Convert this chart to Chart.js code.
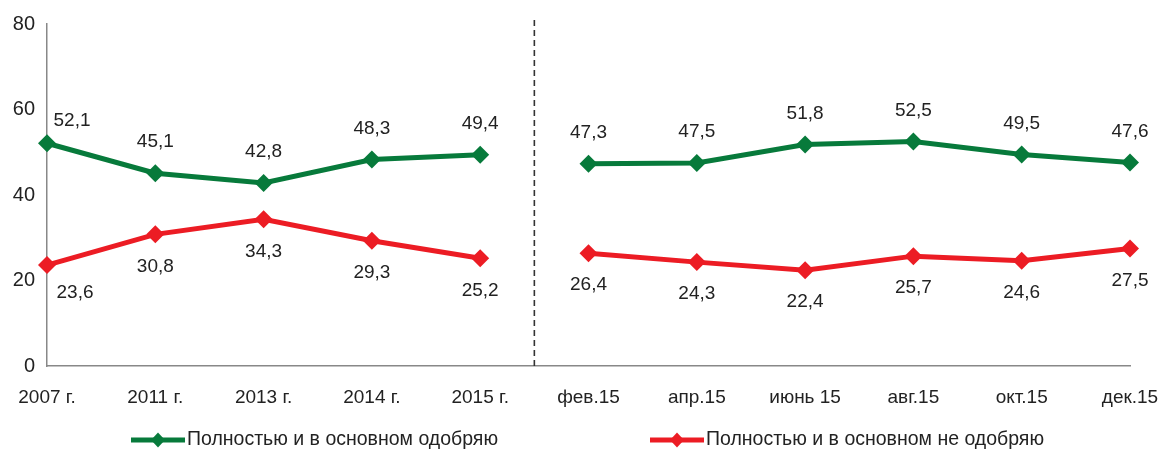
<!DOCTYPE html>
<html><head><meta charset="utf-8">
<script src="https://cdn.jsdelivr.net/npm/chart.js@4.4.0/dist/chart.umd.min.js"></script>
<style>html,body{margin:0;padding:0;background:#fff;}#wrap{width:1160px;height:450px;position:relative;}</style>
</head><body><div id="wrap"><canvas id="c" width="1160" height="450"></canvas></div>
<script>
const categories = ['2007 г.','2011 г.','2013 г.','2014 г.','2015 г.','фев.15','апр.15','июнь 15','авг.15','окт.15','дек.15'];
const approve = [52.1,45.1,42.8,48.3,49.4,47.3,47.5,51.8,52.5,49.5,47.6];
const disapprove = [23.6,30.8,34.3,29.3,25.2,26.4,24.3,22.4,25.7,24.6,27.5];
const seriesNames = ['Полностью и в основном одобряю','Полностью и в основном не одобряю'];
const yTicks = [0,20,40,60,80];

const GREEN = '#077a3b', RED = '#ec1c24';
const FONT = "'Liberation Sans', Arial, sans-serif";

const breakSeg = { borderColor: ctx => ctx.p0DataIndex === 4 ? 'rgba(0,0,0,0)' : undefined };

const labelsPlugin = {
  id: 'vlabels',
  afterDatasetsDraw(chart) {
    const ctx = chart.ctx;
    ctx.save();
    ctx.font = '19px ' + FONT;
    ctx.fillStyle = '#222';
    ctx.textAlign = 'center';
    ctx.textBaseline = 'middle';
    chart.data.datasets.forEach((ds, di) => {
      const meta = chart.getDatasetMeta(di);
      meta.data.forEach((pt, i) => {
        let dx = 0, dy = di === 0 ? -31 : 32;
        if (i === 0) { dx = di === 0 ? 25 : 28; dy = di === 0 ? -23 : 28; }
        ctx.fillText(String(ds.data[i]).replace('.', ','), pt.x + dx, pt.y + dy);
      });
    });
    // dashed divider between 2015 and фев.15
    const xs = chart.scales.x, ys = chart.scales.y;
    const xm = (xs.getPixelForValue(4) + xs.getPixelForValue(5)) / 2;
    ctx.strokeStyle = '#333';
    ctx.lineWidth = 1.6;
    ctx.setLineDash([6, 4]);
    ctx.beginPath();
    ctx.moveTo(xm, 20);
    ctx.lineTo(xm, ys.bottom);
    ctx.stroke();
    ctx.setLineDash([]);
    // legend
    const items = [[131, GREEN, seriesNames[0]], [650, RED, seriesNames[1]]];
    const ly = 440;
    items.forEach(([x, col, txt]) => {
      ctx.strokeStyle = col; ctx.lineWidth = 5;
      ctx.beginPath(); ctx.moveTo(x, ly); ctx.lineTo(x + 54, ly); ctx.stroke();
      ctx.fillStyle = col;
      ctx.beginPath();
      ctx.moveTo(x + 27, ly - 7.5); ctx.lineTo(x + 34, ly); ctx.lineTo(x + 27, ly + 7.5); ctx.lineTo(x + 20, ly);
      ctx.closePath(); ctx.fill();
      ctx.fillStyle = '#222';
      ctx.font = '19.5px ' + FONT;
      ctx.textAlign = 'left';
      ctx.fillText(txt, x + 56, ly);
    });
    ctx.restore();
  }
};

new Chart(document.getElementById('c'), {
  type: 'line',
  data: {
    labels: categories,
    datasets: [
      { label: seriesNames[0], data: approve, borderColor: GREEN, backgroundColor: GREEN, borderWidth: 5,
        pointStyle: 'rectRot', pointRadius: 9, pointHoverRadius: 9, pointBorderWidth: 0, tension: 0, segment: breakSeg },
      { label: seriesNames[1], data: disapprove, borderColor: RED, backgroundColor: RED, borderWidth: 5,
        pointStyle: 'rectRot', pointRadius: 9, pointHoverRadius: 9, pointBorderWidth: 0, tension: 0, segment: breakSeg }
    ]
  },
  options: {
    responsive: false, animation: false, devicePixelRatio: 1,
    layout: { padding: { left: 0, right: 30, top: 24, bottom: 0 } },
    plugins: { legend: { display: false }, tooltip: { enabled: false } },
    scales: {
      x: {
        offset: false,
        grid: { display: false, drawOnChartArea: false, drawTicks: true, tickLength: 6, tickColor: '#777' },
        border: { display: true, color: '#888', width: 1.5 },
        ticks: { color: '#222', font: { family: FONT, size: 19 }, padding: 14, maxRotation: 0, autoSkip: false },
        afterFit(s) { s.height = 84; s.paddingLeft = 0; s.paddingRight = 0; }
      },
      y: {
        min: 0, max: 80,
        afterBuildTicks(s) { s.ticks = yTicks.map(v => ({ value: v })); },
        grid: { display: false, drawOnChartArea: false, drawTicks: true, tickLength: 6, tickColor: '#777' },
        border: { display: true, color: '#888', width: 1.5 },
        ticks: { color: '#222', font: { family: FONT, size: 20 }, padding: 6 },
        afterFit(s) { s.width = 47; s.paddingTop = 0; s.paddingBottom = 0; }
      }
    }
  },
  plugins: [labelsPlugin]
});
</script></body></html>
